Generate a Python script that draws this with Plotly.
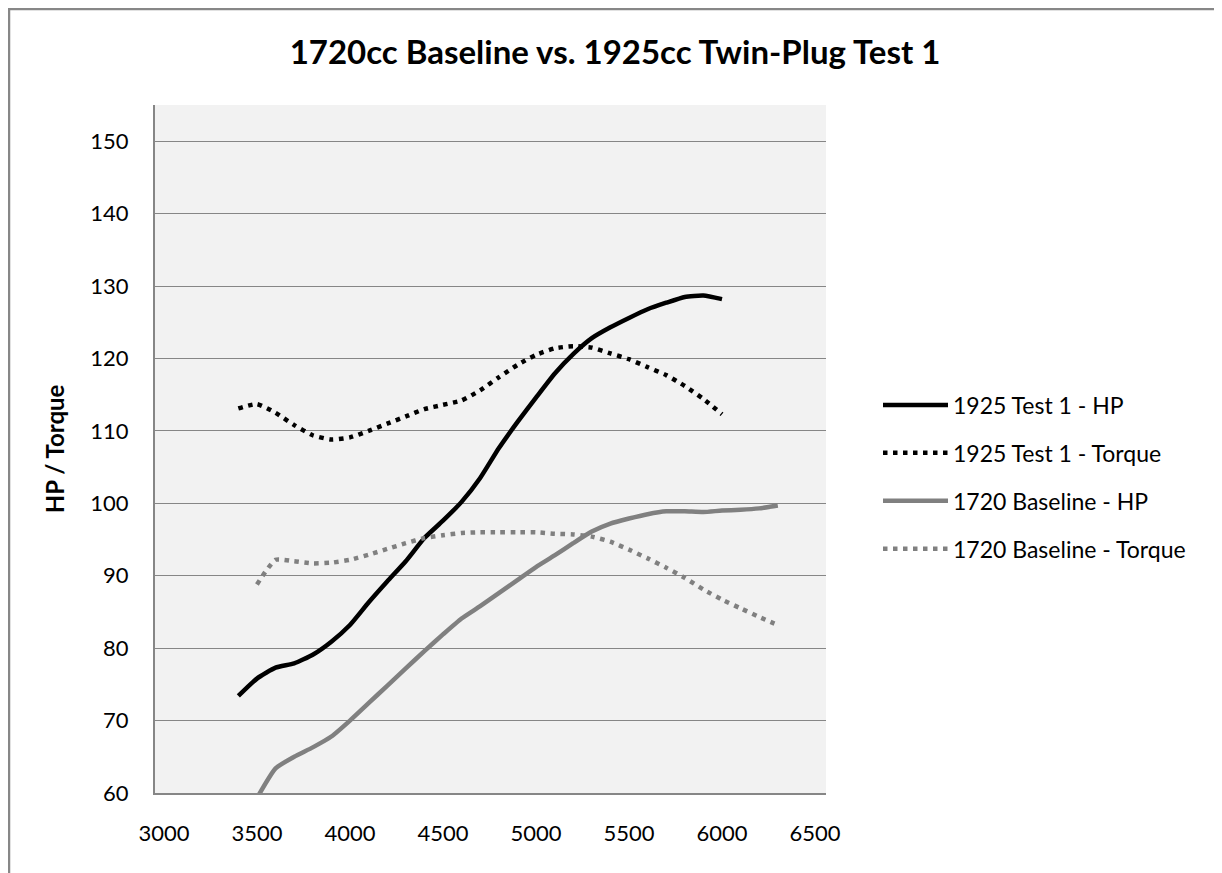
import plotly.graph_objects as go

# ---- data ----
rpm_1925 = [3400, 3500, 3600, 3700, 3800, 3900, 4000, 4100, 4200, 4300, 4400, 4500, 4600, 4700,
            4800, 4900, 5000, 5100, 5200, 5300, 5400, 5500, 5600, 5700, 5800, 5900, 6000]
hp_1925 = [73.4, 75.8, 77.3, 77.9, 79.1, 80.9, 83.2, 86.3, 89.2, 92.0, 95.2, 97.6, 100.2, 103.5,
           107.6, 111.2, 114.6, 117.9, 120.6, 122.8, 124.3, 125.6, 126.8, 127.7, 128.5, 128.7, 128.2]
tq_1925 = [113.1, 113.7, 112.5, 110.8, 109.4, 108.8, 109.1, 110.0, 111.0, 112.0, 113.0, 113.6, 114.2, 115.6,
           117.4, 119.1, 120.5, 121.4, 121.7, 121.5, 120.7, 119.9, 118.8, 117.7, 116.2, 114.4, 112.3]

rpm_1720 = [3500, 3600, 3700, 3800, 3900, 4000, 4100, 4200, 4300, 4400, 4500, 4600, 4700, 4800, 4900,
            5000, 5100, 5200, 5300, 5400, 5500, 5600, 5700, 5800, 5900, 6000, 6100, 6200, 6300]
hp_1720 = [59.3, 63.4, 65.0, 66.3, 67.8, 70.0, 72.4, 74.8, 77.2, 79.6, 81.9, 84.1, 85.8, 87.6, 89.4,
           91.2, 92.8, 94.5, 96.1, 97.2, 97.9, 98.5, 98.9, 98.9, 98.8, 99.0, 99.1, 99.3, 99.7]
tq_1720 = [88.8, 92.2, 92.0, 91.7, 91.8, 92.2, 92.9, 93.7, 94.5, 95.2, 95.6, 95.9, 96.0, 96.0, 96.0,
           96.0, 95.8, 95.7, 95.4, 94.7, 93.6, 92.4, 91.1, 89.7, 88.1, 86.7, 85.5, 84.3, 83.2]

series_names = ["1925 Test 1 - HP", "1925 Test 1 - Torque", "1720 Baseline - HP", "1720 Baseline - Torque"]
x_ticks = [3000, 3500, 4000, 4500, 5000, 5500, 6000, 6500]
y_ticks = [60, 70, 80, 90, 100, 110, 120, 130, 140, 150]

title_text = "1720cc Baseline vs. 1925cc Twin-Plug Test 1"
y_title = "HP / Torque"

FONT = "Lato, 'Open Sans', sans-serif"
BLACK = "#000000"
GRAY = "#808080"
DOT = "4.5px,5.5px"

fig = go.Figure()
specs = [
    (rpm_1925, hp_1925, BLACK, "solid"),
    (rpm_1925, tq_1925, BLACK, DOT),
    (rpm_1720, hp_1720, GRAY, "solid"),
    (rpm_1720, tq_1720, GRAY, DOT),
]
for i, (xs, ys, col, dash) in enumerate(specs):
    fig.add_trace(go.Scatter(
        x=xs, y=ys, mode="lines", name=series_names[i], legendgroup=f"g{i}",
        line=dict(color=col, width=4.5, dash=dash, shape="spline", smoothing=0.5),
    ))

# page is shown with an 8px body margin; positions below are figure pixels
W, H = 1222, 873
OFF = 8
L, T = 155 - OFF, 105 - OFF
R = W - (826 - OFF)
B = H - (793 - OFF)
pw, ph = W - L - R, H - T - B

def sx(px):  # screenshot x -> paper
    return (px - OFF - L) / pw

def sy(py):  # screenshot y -> paper
    return (H - B - (py - OFF)) / ph

fig.update_layout(
    width=W, height=H,
    margin=dict(l=L, r=R, t=T, b=B, pad=0),
    paper_bgcolor="white",
    plot_bgcolor="#f2f2f2",
    font=dict(family=FONT, size=22, color="black"),
    title=dict(text=title_text, x=(615 - OFF) / W, xanchor="center", y=1 - (52 - OFF) / H, yanchor="middle",
               font=dict(family=FONT, size=33, color="black", weight="bold")),
    xaxis=dict(range=[2952, 6559], tickvals=x_ticks, showgrid=False, zeroline=False,
               showline=True, linecolor="#868686", linewidth=1.5, ticks="",
               ticklabelstandoff=20, tickfont=dict(size=22)),
    yaxis=dict(range=[60, 155], tickvals=y_ticks, showgrid=True, gridcolor="#868686", gridwidth=1.2,
               zeroline=False, showline=True, linecolor="#868686", linewidth=2, ticks="",
               ticklabelstandoff=20, tickfont=dict(size=22),
               title=dict(text=y_title, font=dict(size=24, weight="bold"), standoff=19)),
    legend=dict(x=sx(878), xanchor="left", y=sy(477), yanchor="middle",
                bgcolor="rgba(0,0,0,0)", font=dict(size=23), itemwidth=65,
                tracegroupgap=15, traceorder="grouped"),
    showlegend=True,
    shapes=[dict(type="rect", xref="paper", yref="paper",
                 x0=sx(9), x1=sx(1260), y0=sy(920), y1=sy(9),
                 line=dict(color="#878787", width=2.5), fillcolor="rgba(0,0,0,0)", layer="below")],
)

fig.write_html("out.html")
